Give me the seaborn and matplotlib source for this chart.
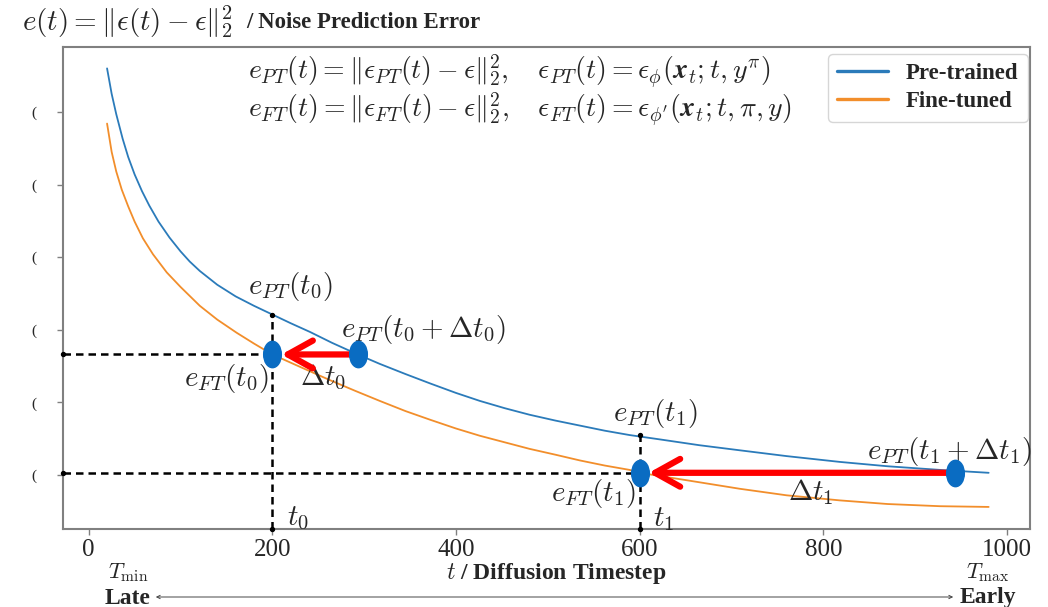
import matplotlib
matplotlib.use("Agg")
import matplotlib.pyplot as plt
import seaborn as sns
from matplotlib.path import Path
from matplotlib.transforms import Affine2D
from matplotlib.patches import ArrowStyle, FancyArrowPatch

# Noise prediction error curves
t_pt = [20, 25, 30, 37, 43, 50, 58, 66, 76, 88, 100, 110, 121, 140, 160, 180, 200, 220, 241, 265, 293,
        317, 345, 372, 400, 426, 453, 480, 508, 535, 562, 589, 622, 665, 709, 760, 818, 870, 927, 980]
e_pt = [5.60, 5.25, 4.97, 4.63, 4.38, 4.14, 3.91, 3.71, 3.49, 3.27, 3.08, 2.94, 2.81, 2.62, 2.46, 2.33,
        2.21, 2.09, 1.97, 1.82, 1.66, 1.53, 1.39, 1.26, 1.13, 1.02, 0.92, 0.83, 0.75, 0.68, 0.61, 0.55,
        0.49, 0.41, 0.34, 0.26, 0.18, 0.12, 0.07, 0.03]
t_ft = [20, 25, 30, 36, 43, 50, 59, 70, 85, 100, 121, 140, 161, 180, 200, 230, 262, 290, 317, 345, 372,
        400, 426, 453, 480, 508, 535, 562, 589, 600, 650, 709, 760, 818, 870, 927, 980]
e_ft = [4.84, 4.45, 4.18, 3.93, 3.70, 3.49, 3.26, 3.04, 2.79, 2.59, 2.33, 2.14, 1.96, 1.81, 1.66, 1.49,
        1.31, 1.16, 1.02, 0.88, 0.76, 0.64, 0.54, 0.45, 0.36, 0.28, 0.20, 0.13, 0.07, 0.03, -0.07, -0.19,
        -0.28, -0.35, -0.40, -0.43, -0.44]

# marked timesteps and error levels
t0, t1 = 200, 600
dt0, dt1 = 93, 343
lvl0, lvl1 = 1.66, 0.03        # e_FT(t0) = e_PT(t0+dt0), e_FT(t1) = e_PT(t1+dt1)
e_pt_t0, e_pt_t1 = 2.21, 0.55

xticks = [0, 200, 400, 600, 800, 1000]
yticks = [0, 1, 2, 3, 4, 5]
series_names = ["Pre-trained", "Fine-tuned"]

sns.set_theme(style="white")
plt.rcParams["font.family"] = ["Liberation Serif", "DejaVu Serif"]
plt.rcParams["mathtext.fontset"] = "cm"

fig = plt.figure(figsize=(10.48, 6.07), dpi=100)
ax = fig.add_axes([0.0601, 0.1285, 0.9227, 0.7941])

sns.lineplot(x=t_pt, y=e_pt, ax=ax, color="#2b7bba", lw=1.3, label=series_names[0])
sns.lineplot(x=t_ft, y=e_ft, ax=ax, color="#f28e2b", lw=1.3, label=series_names[1])

ax.set_xlim(-28, 1025)
ax.set_ylim(-0.744, 5.895)
xl, yl = ax.get_xlim()[0], ax.get_ylim()[0]

# dashed guide lines
dash = dict(color="black", lw=1.8, ls=(0, (3, 2)), zorder=2)
ax.plot([xl, t0], [lvl0, lvl0], **dash)
ax.plot([xl, t1], [lvl1, lvl1], **dash)
ax.plot([t0, t0], [yl, e_pt_t0], **dash)
ax.plot([t1, t1], [yl, e_pt_t1], **dash)
ax.scatter([xl, xl, t0, t1, t0, t1], [lvl0, lvl1, yl, yl, e_pt_t0, e_pt_t1],
           s=8, color="black", zorder=3, clip_on=False)

# red shift arrows
style = ArrowStyle("->", head_length=0.9, head_width=0.5)
for ts, dt, lv in [(t0, dt0, lvl0), (t1, dt1, lvl1)]:
    ax.annotate("", xy=(ts, lv), xytext=(ts + dt, lv),
                arrowprops=dict(arrowstyle=style, color="#ff0000", lw=4.5, mutation_scale=20,
                                shrinkA=0, shrinkB=6.5), zorder=4)

# blue ellipse markers
oval = Path.unit_circle().transformed(Affine2D().scale(0.67, 1.0))
ax.plot([t0, t0 + dt0, t1, t1 + dt1], [lvl0, lvl0, lvl1, lvl1], ls="none",
        marker=oval, ms=19, color="#0a6cc2", zorder=5)

fs = 21
ax.text(220, 2.60, r"$e_{PT}(t_0)$", fontsize=fs, ha="center", va="center")
ax.text(275, 2.00, r"$e_{PT}(t_0+\Delta t_0)$", fontsize=fs, ha="left", va="center")
ax.text(196, 1.33, r"$e_{FT}(t_0)$", fontsize=fs, ha="right", va="center")
ax.text(230, 1.35, r"$\Delta t_0$", fontsize=fs, ha="left", va="center")
ax.text(617, 0.85, r"$e_{PT}(t_1)$", fontsize=fs, ha="center", va="center")
ax.text(1027, 0.32, r"$e_{PT}(t_1+\Delta t_1)$", fontsize=fs, ha="right", va="center")
ax.text(596, -0.26, r"$e_{FT}(t_1)$", fontsize=fs, ha="right", va="center")
ax.text(786, -0.24, r"$\Delta t_1$", fontsize=fs, ha="center", va="center")
ax.text(216, -0.60, r"$t_0$", fontsize=fs, ha="left", va="center")
ax.text(614, -0.60, r"$t_1$", fontsize=fs, ha="left", va="center")

formula = (r"$e_{PT}(t) = \|\epsilon_{PT}(t) - \epsilon\|_2^2,\ \ \ \epsilon_{PT}(t) = \epsilon_{\phi}(\mathbfit{x}_t; t, y^{\pi})$"
           "\n"
           r"$e_{FT}(t) = \|\epsilon_{FT}(t) - \epsilon\|_2^2,\ \ \ \epsilon_{FT}(t) = \epsilon_{\phi^{\prime}}(\mathbfit{x}_t; t, \pi, y)$")
ax.text(0.191, 0.911, formula, transform=ax.transAxes, fontsize=20, ha="left", va="center",
        linespacing=1.0)

leg = ax.legend(loc="upper right", bbox_to_anchor=(0.9975, 0.985), frameon=True, fancybox=True,
                prop={"weight": "bold", "size": 16.5}, handlelength=2.2, borderaxespad=0,
                labelspacing=0.3)
leg.get_frame().set_edgecolor("#cccccc")
for line in leg.get_lines():
    line.set_linewidth(2.4)

ax.set_xticks(xticks)
ax.set_xticklabels([str(v) for v in xticks], fontsize=18)
ax.set_yticks(yticks)
ax.set_yticklabels(["("] * len(yticks), fontsize=11)
ax.tick_params(axis="both", direction="out", length=4, width=1, color="#808080", bottom=True, left=True)
ax.tick_params(axis="y", pad=15)
for sp in ax.spines.values():
    sp.set_color("#808080")
    sp.set_linewidth(1.5)
ax.set_xlabel("")
ax.set_ylabel("")

fig.text(0.021, 1 - 22 / 607, r"$e(t) = \|\epsilon(t) - \epsilon\|_2^2$",
         fontsize=21, ha="left", va="center")
fig.text(246 / 1048, 1 - 22 / 607, "/ Noise Prediction Error",
         fontsize=16.5, fontweight="bold", ha="left", va="center")
fig.text(556 / 1048, 1 - 573 / 607, r"$t$ / Diffusion Timestep", fontsize=17, fontweight="bold",
         ha="center", va="center")
fig.text(128 / 1048, 1 - 573 / 607, r"$T_{\min}$", fontsize=16, ha="center", va="center")
fig.text(988 / 1048, 1 - 573 / 607, r"$T_{\max}$", fontsize=16, ha="center", va="center")
fig.text(128 / 1048, 1 - 598 / 607, "Late", fontsize=17, fontweight="bold", ha="center", va="center")
fig.text(988 / 1048, 1 - 598 / 607, "Early", fontsize=17, fontweight="bold", ha="center", va="center")
fig.add_artist(FancyArrowPatch((153 / 1048, 1 - 597 / 607), (956 / 1048, 1 - 597 / 607),
                               transform=fig.transFigure, arrowstyle="<->",
                               mutation_scale=6, lw=0.7, color="#444444"))

fig.savefig("out.png", dpi=100)
